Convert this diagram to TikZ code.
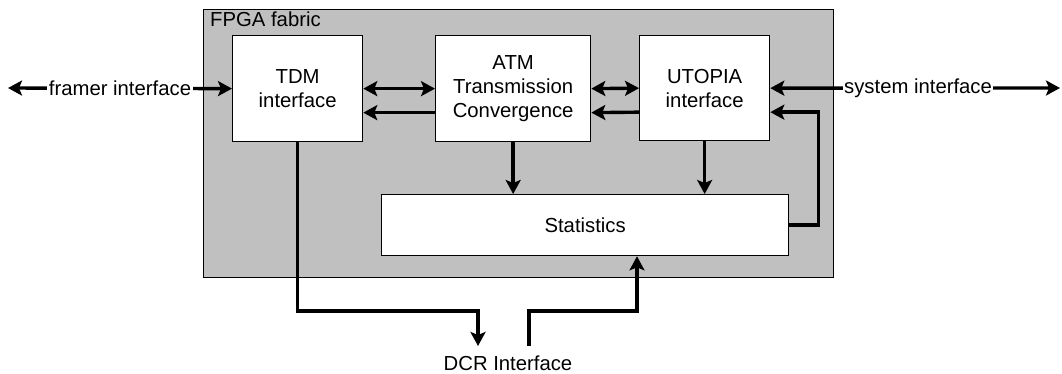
\documentclass[tikz,border=0pt]{standalone}
\usepackage{fontspec}
\setmainfont{Liberation Sans}
\usetikzlibrary{arrows.meta, positioning}
\definecolor{fabricgray}{RGB}{192,192,192}

\begin{document}
\begin{tikzpicture}[x=1pt, y=-1pt,
  blk/.style={draw, fill=white, line width=1.3pt, inner sep=0pt,
              align=center, font=\fontsize{20.3}{24}\selectfont, anchor=north west},
  lbl/.style={font=\fontsize{20.3}{24}\selectfont, inner sep=1.5pt},
  sig/.style={line width=3.4pt, -{Stealth[length=14pt, width=15pt, inset=3pt]}},
  sigb/.style={line width=3.4pt,
               {Stealth[length=14pt, width=15pt, inset=3pt]}-{Stealth[length=14pt, width=15pt, inset=3pt]}}]

  \useasboundingbox (0,0) rectangle (1062,374);

  % Fabric background
  \node[draw, fill=fabricgray, line width=1.3pt, minimum width=630pt, minimum height=268pt,
        inner sep=0pt, anchor=north west] (fabric) at (203,9) {};
  \node[lbl, anchor=north west, inner sep=0pt] (fabriclbl) at (210,12) {FPGA fabric};

  % Blocks
  \node[blk, minimum width=130pt, minimum height=106pt] (tdm) at (232,35) {TDM\\interface};
  \node[blk, minimum width=155pt, minimum height=106pt] (atm) at (435,35) {ATM\\Transmission\\Convergence};
  \node[blk, minimum width=130pt, minimum height=105pt] (utopia) at (639,35) {UTOPIA\\interface};
  \node[blk, minimum width=407pt, minimum height=61pt] (stats) at (381,194) {Statistics};

  % Outside ends
  \coordinate (framerend) at (8,88);
  \coordinate (systemend) at (1060,88);
  \coordinate (dcrin) at (478,346);
  \coordinate (dcrout) at (529,346);
  \node[lbl] (dcr) at (508,363) {DCR Interface};

  % External interfaces
  \draw[sigb] (framerend) -- (tdm.west)
    node[lbl, midway, fill=white] (framer) {framer interface};
  \draw[sigb] (utopia.east) -- (systemend)
    node[lbl, pos=0.51, fill=white] (system) {system interface};

  % Data path
  \draw[sigb] (tdm.east) -- (atm.west);
  \draw[sig] ([yshift=-24pt]atm.west) -- ([yshift=-24pt]tdm.east);
  \draw[sigb] (atm.east) -- (utopia.west);
  \draw[sig] ([yshift=-24pt]utopia.west) -- ([yshift=-24pt]atm.east);

  % Statistics
  \draw[sig] (atm.south) -- (atm.south |- stats.north);
  \draw[sig] (utopia.south) -- (utopia.south |- stats.north);
  \draw[sig] (stats.east) -- ++(29,0) |- ([yshift=-24pt]utopia.east);

  % DCR
  \draw[sig] (tdm.south) |- (478,311) -- (dcrin);
  \draw[sig] (dcrout) |- (637,311) -- (stats.south -| 637,0);

\end{tikzpicture}
\end{document}
